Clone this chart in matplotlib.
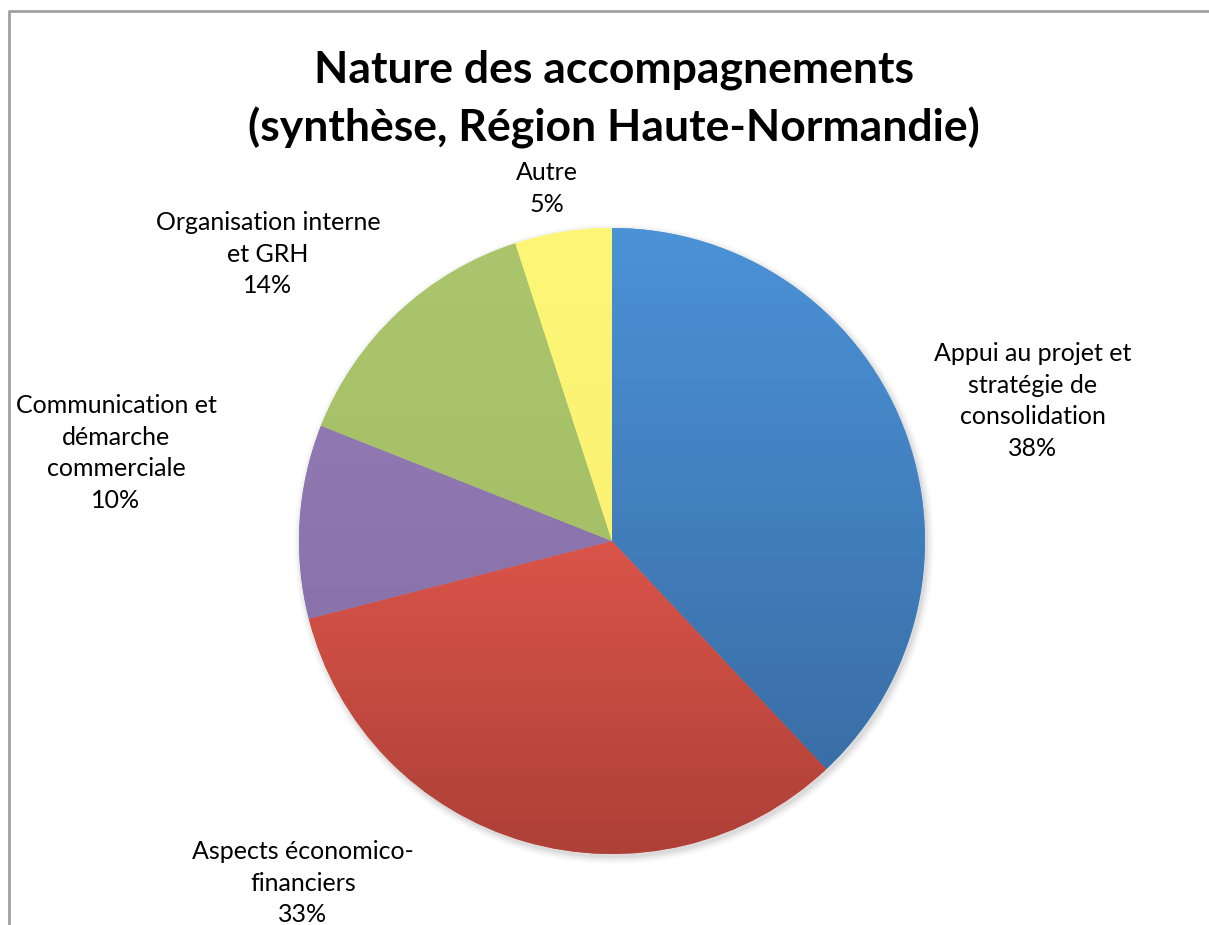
import matplotlib
matplotlib.use("Agg")
import matplotlib.pyplot as plt
import matplotlib.colors as mcolors
import numpy as np

# data
labels = ["Appui au projet et\nstratégie de\nconsolidation",
          "Aspects économico-\nfinanciers",
          "Communication et\ndémarche\ncommerciale",
          "Organisation interne\net GRH",
          "Autre"]
values = [38, 33, 10, 14, 5]
top_colors = ["#4b92d7", "#da5449", "#9079b2", "#abc56c", "#fdf677"]
bottom_colors = ["#3a6ea6", "#ad4037", "#8a72aa", "#a6c067", "#fbf274"]

# label centres in pixels (x, y of first line)
label_pos = [(1033, 353), (303, 851), (116, 405), (268, 222), (547, 172)]

W, H = 1209, 925
cx, cy, r = 612, 541, 313

plt.rcParams['font.family'] = ['Lato', 'DejaVu Sans']

fig = plt.figure(figsize=(W / 100, H / 100), dpi=100)
ax = fig.add_axes([0, 0, 1, 1])

# frame lines (left and top)
ax.plot([9, 9, W], [H, 11, 11], color="#a0a0a0", lw=2, solid_capstyle='butt')

# soft shadow
for i, a in enumerate([0.05, 0.04, 0.03, 0.02]):
    sh = plt.Circle((cx + 2, cy + 3), r + 1 + i * 2, color="black", alpha=a, lw=0)
    ax.add_patch(sh)
ax.add_patch(plt.Circle((cx, cy), r, color="white", lw=0))

# y axis is inverted below, so start at -90 counter-clockwise = top, clockwise on screen
wedges, _ = ax.pie(values, startangle=-90, counterclock=True,
                   center=(cx, cy), radius=r, frame=True,
                   wedgeprops=dict(linewidth=0))

for w, c1, c2 in zip(wedges, top_colors, bottom_colors):
    w.set_facecolor(c1)
    bb = w.get_path().get_extents(w.get_patch_transform())
    grad = np.linspace(0, 1, 256).reshape(-1, 1)
    cmap = mcolors.LinearSegmentedColormap.from_list("g", [c1, c2])
    im = ax.imshow(grad, cmap=cmap, aspect='auto',
                   extent=(bb.x0, bb.x1, bb.y1, bb.y0), origin='upper', zorder=2)
    im.set_clip_path(w)

ax.set_xlim(0, W)
ax.set_ylim(H, 0)
ax.axis('off')

# labels
for lab, v, (x, y) in zip(labels, values, label_pos):
    ax.text(x, y - 11, lab + "\n" + f"{v}%", ha='center', va='top',
            fontsize=18, color="black", linespacing=1.45)

ax.text(614, 99, "Nature des accompagnements\n(synthèse, Région Haute-Normandie)",
        ha='center', va='center', fontsize=32, fontweight='bold',
        linespacing=1.48)

fig.savefig("out.png", dpi=100)
